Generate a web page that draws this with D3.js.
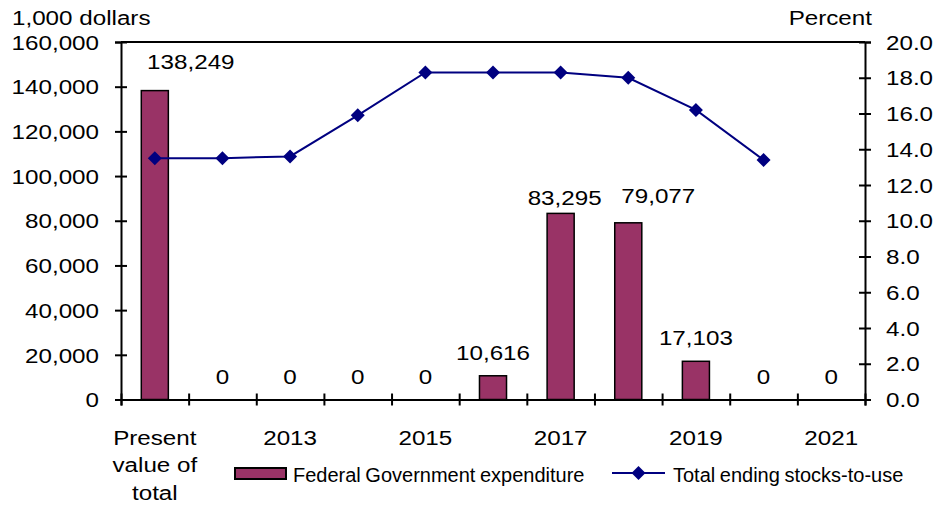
<!DOCTYPE html>
<html>
<head>
<meta charset="utf-8">
<script src="https://cdn.jsdelivr.net/npm/d3@7"></script>
<style>
  body { margin: 0; background: #fff; }
  svg { display: block; font-family: "Liberation Sans", Arial, sans-serif; }
  .axis path, .axis line { stroke: #000; stroke-width: 2; }
  .axis text { font-size: 20px; fill: #000; }
</style>
</head>
<body>
<div id="chart"></div>
<script>

// data
var categories = [ 'Present value of total', '2012', '2013', '2014', '2015', '2016', '2017', '2018', '2019', '2020', '2021' ];
var tickLabels = [ 'Present value of total', '', '2013', '', '2015', '', '2017', '', '2019', '', '2021' ];
var expenditure = [ 138249, 0, 0, 0, 0, 10616, 83295, 79077, 17103, 0, 0 ];
var stocksToUse = [ 13.5, 13.5, 13.6, 15.9, 18.3, 18.3, 18.3, 18.0, 16.2, 13.4, null ];
var leftTicks = [ 0, 20000, 40000, 60000, 80000, 100000, 120000, 140000, 160000 ];
var rightTicks = [ 0, 2, 4, 6, 8, 10, 12, 14, 16, 18, 20 ];
var seriesNames = [ 'Federal Government expenditure', 'Total ending stocks-to-use' ];

var width = 937, height = 506;
var plot = { left: 121, right: 865, top: 42, bottom: 399.5 };
var SX = 1.21; // the picture's text is a bit wider than Arial
var barColor = '#993366', lineColor = '#000080';
// hand nudges for a few value labels (px)
var labelNudge = { 0: [ 36, -6 ], 6: [ 4, 8 ], 7: [ 30, -4 ] };

var svg = d3.select( '#chart' ).append( 'svg' )
  .attr( 'width', width )
  .attr( 'height', height );

var x = d3.scaleBand()
  .domain( categories )
  .range( [ plot.left, plot.right ] )
  .paddingInner( 0.6 )
  .paddingOuter( 0.3 );

var xEdge = d3.scaleLinear()
  .domain( [ 0, categories.length ] )
  .range( [ plot.left, plot.right ] );

var yLeft = d3.scaleLinear().domain( [ 0, 160000 ] ).range( [ plot.bottom, plot.top ] );
var yRight = d3.scaleLinear().domain( [ 0, 20 ] ).range( [ plot.bottom, plot.top ] );

function cx( d, i ) { return x( categories[ i ] ) + x.bandwidth() / 2; }

function wideText( g, px, py, str, anchor, size ) {
  return g.append( 'text' )
    .attr( 'transform', 'translate(' + px + ',' + py + ') scale(' + SX + ',1)' )
    .attr( 'text-anchor', anchor )
    .style( 'font-size', ( size || 20 ) + 'px' )
    .text( str );
}

// top border
svg.append( 'line' )
  .attr( 'x1', plot.left ).attr( 'x2', plot.right )
  .attr( 'y1', plot.top ).attr( 'y2', plot.top )
  .attr( 'stroke', '#000' ).attr( 'stroke-width', 2 );

// bars
svg.selectAll( '.bar' )
  .data( expenditure )
  .enter()
  .append( 'rect' )
    .attr( 'class', 'bar' )
    .attr( 'x', ( d, i ) => x( categories[ i ] ) )
    .attr( 'width', x.bandwidth() )
    .attr( 'y', d => yLeft( d ) )
    .attr( 'height', d => plot.bottom - yLeft( d ) )
    .attr( 'fill', barColor )
    .attr( 'stroke', '#000' )
    .attr( 'stroke-width', 1.5 );

// left axis
var gLeft = svg.append( 'g' )
  .attr( 'class', 'axis' )
  .attr( 'transform', 'translate(' + plot.left + ',0)' )
  .call( d3.axisLeft( yLeft ).tickValues( leftTicks ).tickSizeOuter( 0 ).tickSize( 6 ).tickFormat( d3.format( ',' ) ) );
gLeft.selectAll( '.tick line' ).attr( 'x1', 6 ).attr( 'x2', -6 );
gLeft.selectAll( '.tick text' )
  .attr( 'x', -22 / SX )
  .attr( 'dy', '0.36em' )
  .attr( 'transform', 'scale(' + SX + ',1)' );

// right axis
var gRight = svg.append( 'g' )
  .attr( 'class', 'axis' )
  .attr( 'transform', 'translate(' + plot.right + ',0)' )
  .call( d3.axisRight( yRight ).tickValues( rightTicks ).tickSizeOuter( 0 ).tickSize( 6 ).tickFormat( d3.format( '.1f' ) ) );
gRight.selectAll( '.tick line' ).attr( 'x1', -6 ).attr( 'x2', 6 );
gRight.selectAll( '.tick text' )
  .attr( 'x', 21 / SX )
  .attr( 'dy', '0.36em' )
  .attr( 'transform', 'scale(' + SX + ',1)' );

// bottom axis: boundary ticks
var gBottom = svg.append( 'g' )
  .attr( 'class', 'axis' )
  .attr( 'transform', 'translate(0,' + plot.bottom + ')' )
  .call( d3.axisBottom( xEdge ).tickValues( d3.range( categories.length + 1 ) ).tickSizeOuter( 0 ).tickSize( 6 ).tickFormat( '' ) );
gBottom.selectAll( '.tick line' ).attr( 'y1', -6 ).attr( 'y2', 6 );

// bottom axis: category labels, wrapped
var gLabels = svg.append( 'g' )
  .attr( 'class', 'axis' )
  .attr( 'transform', 'translate(0,' + plot.bottom + ')' )
  .call( d3.axisBottom( x ).tickSize( 0 ).tickFormat( ( d, i ) => tickLabels[ i ] ) );
gLabels.select( '.domain' ).remove();

function wrapWords( str, maxChars ) {
  var lines = [], cur = '';
  str.split( ' ' ).forEach( w => {
    if( cur === '' ) cur = w;
    else if( ( cur + ' ' + w ).length <= maxChars ) cur += ' ' + w;
    else { lines.push( cur ); cur = w; }
  } );
  if( cur !== '' ) lines.push( cur );
  return lines;
}

gLabels.selectAll( '.tick text' ).each( function( d, i ) {
  var t = d3.select( this ), lines = wrapWords( tickLabels[ i ], 8 );
  t.text( null )
    .attr( 'y', 0 ).attr( 'dy', null )
    .attr( 'transform', 'scale(' + SX + ',1)' );
  lines.forEach( ( l, k ) => {
    t.append( 'tspan' ).attr( 'x', 0 ).attr( 'y', 45.5 + k * 27.5 ).text( l );
  } );
} );

// line series
var line = d3.line()
  .defined( d => d !== null )
  .x( cx )
  .y( d => yRight( d ) );

svg.append( 'path' )
  .datum( stocksToUse )
  .attr( 'fill', 'none' )
  .attr( 'stroke', lineColor )
  .attr( 'stroke-width', 2 )
  .attr( 'd', line );

var diamond = 'M0,-7L7,0L0,7L-7,0Z';

svg.selectAll( '.marker' )
  .data( stocksToUse.map( ( d, i ) => [ d, i ] ).filter( p => p[ 0 ] !== null ) )
  .enter()
  .append( 'path' )
    .attr( 'class', 'marker' )
    .attr( 'd', diamond )
    .attr( 'fill', lineColor )
    .attr( 'transform', p => 'translate(' + cx( p[ 0 ], p[ 1 ] ) + ',' + yRight( p[ 0 ] ) + ')' );

// value labels
var gValues = svg.append( 'g' );
expenditure.forEach( ( d, i ) => {
  var n = labelNudge[ i ] || [ 0, 0 ];
  wideText( gValues, cx( d, i ) + n[ 0 ], yLeft( d ) - 16 + n[ 1 ], d3.format( ',' )( d ), 'middle' );
} );

// axis titles
wideText( svg, 12, 25, '1,000 dollars', 'start' );
wideText( svg, 872, 24.5, 'Percent', 'end' );

// legend
var gLegend = svg.append( 'g' );
gLegend.append( 'rect' )
  .attr( 'x', 235 ).attr( 'y', 468 )
  .attr( 'width', 51 ).attr( 'height', 11 )
  .attr( 'fill', barColor )
  .attr( 'stroke', '#000' )
  .attr( 'stroke-width', 2 );
gLegend.append( 'text' )
  .attr( 'x', 293 ).attr( 'y', 482 )
  .style( 'font-size', '20px' )
  .style( 'word-spacing', '-1px' )
  .text( seriesNames[ 0 ] );

gLegend.append( 'line' )
  .attr( 'x1', 612 ).attr( 'x2', 665 )
  .attr( 'y1', 473 ).attr( 'y2', 473 )
  .attr( 'stroke', lineColor )
  .attr( 'stroke-width', 2 );
gLegend.append( 'path' )
  .attr( 'd', diamond )
  .attr( 'fill', lineColor )
  .attr( 'transform', 'translate(638.5,473)' );
gLegend.append( 'text' )
  .attr( 'x', 673 ).attr( 'y', 482 )
  .style( 'font-size', '20px' )
  .style( 'word-spacing', '-1px' )
  .text( seriesNames[ 1 ] );

</script>
</body>
</html>
